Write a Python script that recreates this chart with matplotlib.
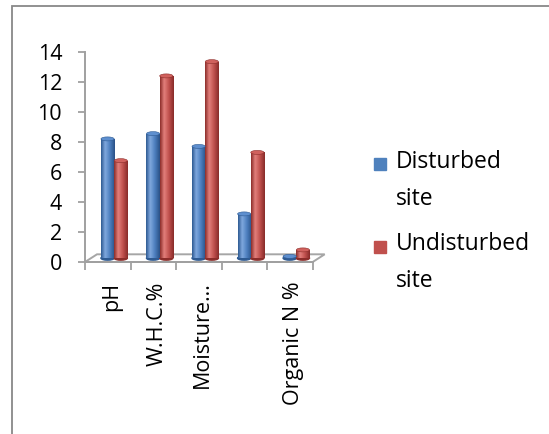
import matplotlib
matplotlib.use("Agg")
import matplotlib.pyplot as plt
import numpy as np
from matplotlib.patches import Rectangle, Ellipse, Polygon
from matplotlib.colors import LinearSegmentedColormap

# ---- data ----
categories = ["pH", "W.H.C.%", "Moisture…", "", "Organic N %"]
disturbed = [7.95, 8.3, 7.45, 2.95, 0.12]
undisturbed = [6.5, 12.15, 13.1, 7.05, 0.55]
series_names = ["Disturbed\nsite", "Undisturbed\nsite"]
yticks = [0, 2, 4, 6, 8, 10, 12, 14]

plt.rcParams['font.family'] = ['Open Sans', 'DejaVu Sans']
FS = 15.5

W, H = 549, 434
fig = plt.figure(figsize=(W / 100, H / 100), dpi=100)

# axes rectangle (pixels): x 85..312.7, y 52..262
ax_l, ax_r, ax_t, ax_b = 85, 312.7, 52, 262
ax = fig.add_axes([ax_l / W, 1 - ax_b / H, (ax_r - ax_l) / W, (ax_b - ax_t) / H])
ax.set_xlim(0, len(categories))
ax.set_ylim(0, 14)

ux = len(categories) / (ax_r - ax_l)   # data units per px (x)
uy = 14 / (ax_b - ax_t)                # data units per px (y)
dx, dy = 12 * ux, 7.7 * uy             # 3-D depth offset
cap_h = 4 * uy

gray = '#888888'
# floor
floor = Polygon([(0, 0), (len(categories), 0), (len(categories) + dx, dy), (dx, dy)],
                closed=True, facecolor='white', edgecolor='#A6A6A6', lw=1.4,
                clip_on=False, zorder=1)
ax.add_patch(floor)

blue_cm = LinearSegmentedColormap.from_list(
    'b', [(0, '#2E5A92'), (0.3, '#7FA8DE'), (0.65, '#4C7EBE'), (1, '#2A5187')])
red_cm = LinearSegmentedColormap.from_list(
    'r', [(0, '#8C2D2A'), (0.3, '#E27F7B'), (0.65, '#C0504D'), (1, '#872B29')])

w = 0.29
base = dy / 2
x = np.arange(len(categories))
grad = np.linspace(0, 1, 64)[None, :]

for vals, off, cm, main, top, dark in [
        (disturbed, 0.35, blue_cm, '#4F81BD', '#5E8FCF', '#2E5A92'),
        (undisturbed, 0.64, red_cm, '#C0504D', '#D0615D', '#8C2D2A')]:
    bars = ax.bar(x + off, vals, width=w, bottom=base, align='edge',
                  color=main, zorder=3, clip_on=False)
    for b, v in zip(bars, vals):
        x0 = b.get_x()
        xc = x0 + w / 2
        ax.add_patch(Ellipse((xc, base), w, cap_h, color=dark, zorder=2.9, clip_on=False))
        im = ax.imshow(grad, extent=[x0, x0 + w, base, base + v], aspect='auto',
                       cmap=cm, zorder=3.1, interpolation='bilinear')
        im.set_clip_path(b)
        ax.add_patch(Ellipse((xc, base + v), w, cap_h, facecolor=top,
                             edgecolor=dark, lw=0.4, zorder=3.2, clip_on=False))

ax.set_xlim(0, len(categories))
ax.set_ylim(0, 14)
ax.set_aspect('auto')

for s in ['top', 'right']:
    ax.spines[s].set_visible(False)
for s in ['left', 'bottom']:
    ax.spines[s].set_color('#A0A0A0')
    ax.spines[s].set_linewidth(1.4)
    ax.spines[s].set_zorder(1.5)

ax.set_yticks(yticks)
ax.set_yticklabels([str(t) for t in yticks])
ax.tick_params(axis='y', direction='out', length=5, width=1.3, color='#A0A0A0',
               pad=11.5, labelsize=FS, labelcolor='black')

ax.set_xticks(np.arange(len(categories) + 1))
ax.set_xticklabels([])
ax.set_xticks(x + 0.58, minor=True)
ax.set_xticklabels(categories, minor=True, rotation=90, va='top', ha='center')
ax.tick_params(axis='x', which='major', direction='out', length=6, width=1.3,
               color='#A0A0A0')
ax.tick_params(axis='x', which='minor', length=0, pad=14, labelsize=FS,
               labelcolor='black')

# legend (manual); y = baseline of the last line, square beside first line
leg_colors = ['#4F81BD', '#C0504D']
leg_sq_top = [158, 241]
leg_last_baseline = [205, 287]
for c, name, sq, yb in zip(leg_colors, series_names, leg_sq_top, leg_last_baseline):
    fig.add_artist(Rectangle((374 / W, 1 - (sq + 12) / H), 12 / W, 12 / H,
                             transform=fig.transFigure, color=c))
    fig.text(396 / W, 1 - yb / H, name, va='baseline', ha='left',
             fontsize=16.5, linespacing=1.75, color='black')

# outer border
fig.add_artist(Rectangle((12 / W, -0.1), 1.2, 1 - 6 / H + 0.1, fill=False,
                         edgecolor=gray, lw=1.3, transform=fig.transFigure))

fig.savefig('out.png', dpi=100)
